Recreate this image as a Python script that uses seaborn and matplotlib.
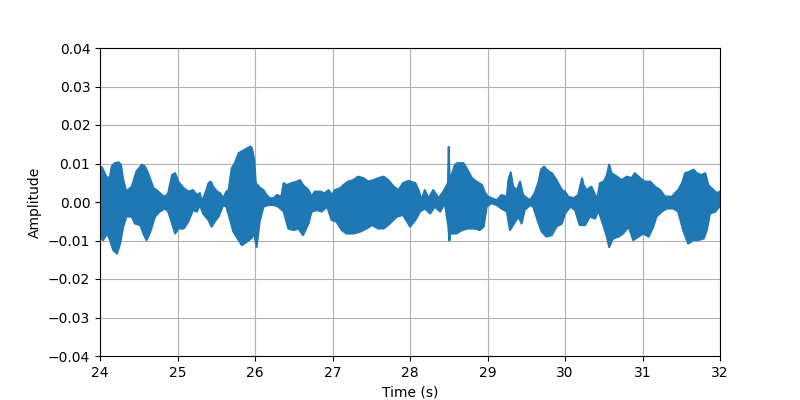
import numpy as np
import matplotlib
matplotlib.use("Agg")
import matplotlib.pyplot as plt
import seaborn as sns

# upper envelope of the waveform (time in s, amplitude)
upper_t = [24.005, 24.03, 24.09, 24.13, 24.15, 24.19, 24.24, 24.27, 24.30, 24.34,
           24.41, 24.47, 24.54, 24.58, 24.62, 24.69, 24.73, 24.80, 24.84, 24.88,
           24.93, 24.97, 25.01, 25.08, 25.14, 25.20, 25.25, 25.29, 25.31, 25.36,
           25.40, 25.43, 25.46, 25.51, 25.55, 25.59, 25.63, 25.66, 25.70, 25.74,
           25.79, 25.87, 25.94, 25.96, 25.99, 26.01, 26.07, 26.11, 26.15, 26.19,
           26.24, 26.28, 26.34, 26.37, 26.41, 26.47, 26.54, 26.58, 26.62, 26.69,
           26.73, 26.77, 26.84, 26.90, 26.95, 26.99, 27.03, 27.10, 27.14, 27.20,
           27.27, 27.33, 27.40, 27.46, 27.53, 27.59, 27.66, 27.72, 27.79, 27.85,
           27.91, 27.98, 28.07, 28.11, 28.15, 28.19, 28.24, 28.30, 28.37, 28.43,
           28.49, 28.50, 28.51, 28.53, 28.58, 28.62, 28.69, 28.73, 28.80, 28.86,
           28.93, 28.97, 29.01, 29.05, 29.12, 29.18, 29.25, 29.27, 29.30, 29.33,
           29.38, 29.42, 29.46, 29.51, 29.55, 29.61, 29.66, 29.69, 29.73, 29.79,
           29.83, 29.89, 29.96, 30.00, 30.04, 30.11, 30.17, 30.22, 30.24, 30.28,
           30.34, 30.39, 30.42, 30.45, 30.50, 30.54, 30.57, 30.60, 30.67, 30.73,
           30.80, 30.86, 30.90, 30.97, 31.03, 31.10, 31.16, 31.23, 31.29, 31.38,
           31.42, 31.46, 31.51, 31.55, 31.61, 31.66, 31.70, 31.76, 31.81, 31.85,
           31.89, 31.96, 32.00]
upper_v = [0.0092, 0.0088, 0.0062, 0.0066, 0.0092, 0.0101, 0.0103, 0.0097, 0.0057, 0.0027,
           0.0040, 0.0079, 0.0097, 0.0092, 0.0075, 0.0036, 0.0031, 0.0018, 0.0014, 0.0023,
           0.0070, 0.0075, 0.0053, 0.0036, 0.0027, 0.0031, 0.0018, 0.0023, 0.0001, 0.0023,
           0.0049, 0.0053, 0.0040, 0.0027, 0.0023, 0.0010, 0.0027, 0.0031, 0.0088, 0.0101,
           0.0127, 0.0136, 0.0144, 0.0140, 0.0110, 0.0049, 0.0036, 0.0031, 0.0018, 0.0010,
           0.0010, 0.0018, 0.0014, 0.0049, 0.0044, 0.0049, 0.0053, 0.0057, 0.0044, 0.0031,
           0.0014, 0.0027, 0.0027, 0.0023, 0.0031, 0.0018, 0.0031, 0.0036, 0.0044, 0.0053,
           0.0057, 0.0066, 0.0062, 0.0053, 0.0057, 0.0062, 0.0066, 0.0057, 0.0040, 0.0031,
           0.0049, 0.0055, 0.0049, 0.0031, 0.0005, 0.0031, 0.0010, 0.0031, 0.0010, 0.0027,
           0.0049, 0.0143, 0.0066, 0.0066, 0.0097, 0.0101, 0.0101, 0.0088, 0.0062, 0.0053,
           0.0044, 0.0023, 0.0014, 0.0010, 0.0005, 0.0018, 0.0014, 0.0057, 0.0077, 0.0040,
           0.0031, 0.0053, 0.0018, 0.0010, 0.0005, 0.0023, 0.0053, 0.0084, 0.0092, 0.0079,
           0.0075, 0.0057, 0.0031, 0.0027, 0.0014, 0.0010, 0.0018, 0.0062, 0.0044, 0.0031,
           0.0040, 0.0018, 0.0010, 0.0049, 0.0053, 0.0070, 0.0097, 0.0075, 0.0066, 0.0057,
           0.0066, 0.0062, 0.0075, 0.0062, 0.0053, 0.0053, 0.0040, 0.0031, 0.0014, 0.0014,
           0.0023, 0.0031, 0.0049, 0.0075, 0.0079, 0.0084, 0.0075, 0.0070, 0.0075, 0.0044,
           0.0036, 0.0023, 0.0027]

# lower envelope of the waveform
lower_t = [24.005, 24.04, 24.09, 24.13, 24.17, 24.22, 24.26, 24.30, 24.34, 24.41,
           24.45, 24.52, 24.56, 24.60, 24.65, 24.71, 24.77, 24.84, 24.88, 24.93,
           24.97, 25.01, 25.08, 25.14, 25.20, 25.25, 25.29, 25.33, 25.40, 25.44,
           25.48, 25.53, 25.59, 25.63, 25.68, 25.72, 25.79, 25.83, 25.89, 25.96,
           25.99, 26.02, 26.06, 26.11, 26.17, 26.24, 26.30, 26.37, 26.43, 26.50,
           26.56, 26.62, 26.69, 26.73, 26.80, 26.86, 26.93, 26.99, 27.05, 27.12,
           27.18, 27.27, 27.36, 27.44, 27.51, 27.59, 27.66, 27.74, 27.83, 27.91,
           27.96, 28.00, 28.07, 28.13, 28.19, 28.26, 28.32, 28.39, 28.45, 28.495,
           28.508, 28.52, 28.54, 28.60, 28.67, 28.75, 28.84, 28.90, 28.95, 28.99,
           29.05, 29.12, 29.18, 29.25, 29.29, 29.33, 29.40, 29.44, 29.48, 29.55,
           29.59, 29.66, 29.70, 29.76, 29.83, 29.89, 29.96, 30.00, 30.07, 30.13,
           30.19, 30.26, 30.32, 30.39, 30.43, 30.50, 30.54, 30.57, 30.62, 30.69,
           30.75, 30.82, 30.88, 30.95, 31.01, 31.08, 31.14, 31.18, 31.25, 31.31,
           31.40, 31.46, 31.53, 31.59, 31.66, 31.72, 31.79, 31.83, 31.87, 31.94,
           32.00]
lower_v = [-0.0090, -0.0099, -0.0082, -0.0099, -0.0125, -0.0134, -0.0108, -0.0064, -0.0038, -0.0038,
           -0.0056, -0.0060, -0.0082, -0.0099, -0.0077, -0.0038, -0.0025, -0.0017, -0.0025, -0.0056,
           -0.0082, -0.0069, -0.0069, -0.0051, -0.0021, -0.0025, -0.0008, -0.0030, -0.0047, -0.0064,
           -0.0051, -0.0038, -0.0008, -0.0012, -0.0047, -0.0077, -0.0099, -0.0112, -0.0104, -0.0093,
           -0.0082, -0.0117, -0.0051, -0.0012, -0.0008, -0.0008, -0.0012, -0.0025, -0.0069, -0.0073,
           -0.0069, -0.0086, -0.0056, -0.0025, -0.0021, -0.0025, -0.0012, -0.0047, -0.0051, -0.0073,
           -0.0082, -0.0082, -0.0077, -0.0069, -0.0060, -0.0069, -0.0069, -0.0056, -0.0038, -0.0034,
           -0.0050, -0.0064, -0.0047, -0.0025, -0.0017, -0.0030, -0.0012, -0.0025, -0.0003, -0.0064,
           -0.0100, -0.0080, -0.0082, -0.0082, -0.0073, -0.0069, -0.0069, -0.0073, -0.0064, -0.0012,
           -0.0003, -0.0008, -0.0017, -0.0025, -0.0073, -0.0060, -0.0038, -0.0056, -0.0021, -0.0008,
           -0.0012, -0.0056, -0.0077, -0.0090, -0.0086, -0.0064, -0.0056, -0.0030, -0.0012, -0.0021,
           -0.0060, -0.0060, -0.0038, -0.0043, -0.0021, -0.0064, -0.0090, -0.0117, -0.0095, -0.0090,
           -0.0082, -0.0064, -0.0099, -0.0090, -0.0082, -0.0090, -0.0064, -0.0038, -0.0025, -0.0017,
           -0.0017, -0.0025, -0.0077, -0.0108, -0.0099, -0.0099, -0.0095, -0.0073, -0.0030, -0.0025,
           -0.0010]

x_ticks = [24, 25, 26, 27, 28, 29, 30, 31, 32]
y_ticks = [-0.04, -0.03, -0.02, -0.01, 0.0, 0.01, 0.02, 0.03, 0.04]

fig, ax = plt.subplots(figsize=(8, 4), dpi=100)

color = "#1f77b4"
# body of the waveform
ax.fill(np.concatenate([upper_t, lower_t[::-1]]),
        np.concatenate([upper_v, lower_v[::-1]]),
        color=color, lw=0, zorder=2)
sns.lineplot(x=upper_t, y=upper_v, color=color, lw=1.5, sort=False,
             estimator=None, ax=ax, zorder=2)
sns.lineplot(x=lower_t, y=lower_v, color=color, lw=1.5, sort=False,
             estimator=None, ax=ax, zorder=2)

ax.set_xlim(24, 32)
ax.set_ylim(-0.04, 0.04)
ax.set_xticks(x_ticks)
ax.set_yticks(y_ticks)
ax.set_xlabel("Time (s)")
ax.set_ylabel("Amplitude")
ax.grid(True)

fig.savefig("out.png")
